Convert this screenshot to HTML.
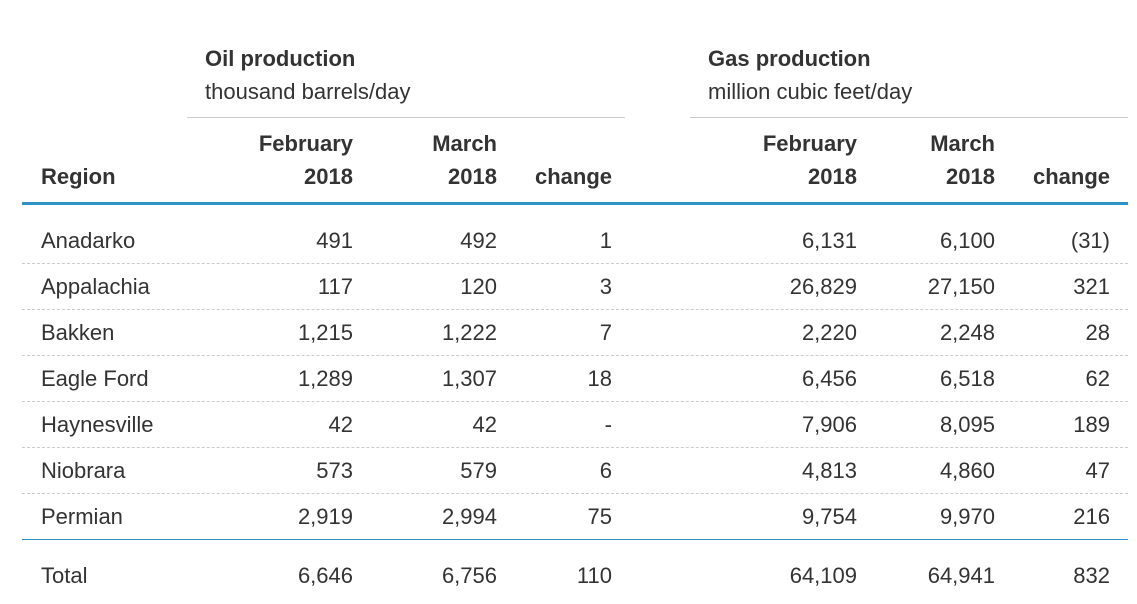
<!DOCTYPE html>
<html><head><meta charset="utf-8"><style>
body{margin:0;width:1137px;height:604px;background:#fff;position:relative;overflow:hidden;font-family:"Liberation Sans",Arial,sans-serif;color:#333}
.t{position:absolute;font-size:22px;line-height:24px;white-space:nowrap}
.b{font-weight:bold}
.ln{position:absolute}
</style></head><body>
<div class="t b" style="left:205px;top:47px">Oil production</div>
<div class="t" style="left:205px;top:80px">thousand barrels/day</div>
<div class="t b" style="left:708px;top:47px">Gas production</div>
<div class="t" style="left:708px;top:80px">million cubic feet/day</div>
<div class="ln" style="left:187px;top:117px;width:438px;height:1px;background:#ccc"></div>
<div class="ln" style="left:690px;top:117px;width:438px;height:1px;background:#ccc"></div>
<div class="t b" style="left:41px;top:165px">Region</div>
<div class="ln" style="left:22px;top:202px;width:1106px;height:3px;background:#2e94c8"></div>
<div class="ln" style="left:22px;top:539px;width:1106px;height:1px;background:#2e94c8"></div>
<script>
const regions=["Anadarko","Appalachia","Bakken","Eagle Ford","Haynesville","Niobrara","Permian"];
const oilFeb=["491","117","1,215","1,289","42","573","2,919"];
const oilMar=["492","120","1,222","1,307","42","579","2,994"];
const oilChg=["1","3","7","18","-","6","75"];
const gasFeb=["6,131","26,829","2,220","6,456","7,906","4,813","9,754"];
const gasMar=["6,100","27,150","2,248","6,518","8,095","4,860","9,970"];
const gasChg=["(31)","321","28","62","189","47","216"];
const totals=["6,646","6,756","110","64,109","64,941","832"];
const rights=[353,497,612,857,995,1110];
function txt(s,x,y,cls,right,name){
 const d=document.createElement('div');
 d.className='t '+cls;
 d.textContent=s;
 if(right){d.style.right=(1137-x)+'px';d.style.textAlign='right';}else d.style.left=x+'px';
 d.style.top=y+'px';
 
 
 document.body.appendChild(d);
}
const hdr=[["February","2018"],["March","2018"],[null,"change"]];
for(let g=0;g<2;g++)for(let c=0;c<3;c++){
 const x=rights[g*3+c];
 if(hdr[c][0])txt(hdr[c][0],x,132,'b',true,'column-header');
 txt(hdr[c][1],x,165,'b',true,'column-header');
}
const cols=[oilFeb,oilMar,oilChg,gasFeb,gasMar,gasChg];
regions.forEach((r,i)=>{
 const y=229+i*46;
 txt(r,41,y,'',false,'region-label');
 cols.forEach((arr,c)=>txt(arr[i],rights[c],y,'',true,'table-cell'));
 if(i<regions.length-1){
  const l=document.createElement('div');
  l.className='ln';
  l.style.cssText='left:22px;width:1106px;top:'+(263+i*46)+'px;border-top:1px dashed #ccc';
  
  
  document.body.appendChild(l);
 }
});
txt("Total",41,564,'',false,'total-label');
totals.forEach((v,c)=>txt(v,rights[c],564,'',true,'total-cell'));
</script>
</body></html>
